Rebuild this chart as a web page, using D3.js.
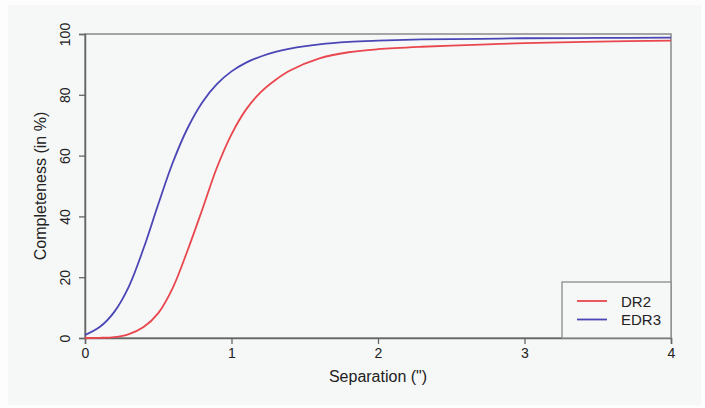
<!DOCTYPE html>
<html lang="en">
<head>
<meta charset="utf-8">
<title>Completeness vs separation</title>
<script src="https://cdn.jsdelivr.net/npm/d3@7"></script>
<style>
body { margin: 0; background: #fdfdfd; }
text { font-family: "Liberation Sans", Arial, sans-serif; fill: #222; }
</style>
</head>
<body>
<script>
// separation in arcsec, completeness in %
var separation = [0, 0.1, 0.2, 0.3, 0.4, 0.5, 0.6, 0.7, 0.8, 0.9, 1.0, 1.1, 1.2, 1.3, 1.4, 1.6, 1.8, 2.0, 2.3, 2.7, 3.0, 3.5, 4.0];
var dr2  = [0, 0.05, 0.3, 1.3, 3.6, 8.2, 16.6, 28.8, 42.2, 56.0, 67.0, 75.2, 80.9, 84.9, 88.0, 92.0, 94.0, 95.0, 95.8, 96.5, 97.0, 97.5, 97.8];
var edr3 = [1.0, 3.6, 8.6, 17.0, 29.5, 44.0, 57.8, 69.0, 77.5, 83.5, 87.7, 90.6, 92.6, 94.1, 95.2, 96.6, 97.4, 97.8, 98.2, 98.4, 98.6, 98.7, 98.8];
var seriesNames = ["DR2", "EDR3"];
var seriesColors = ["#e9474d", "#4b46b6"];
var xTicks = [0, 1, 2, 3, 4];
var yTicks = [0, 20, 40, 60, 80, 100];

var W = 705, H = 408;
var svg = d3.select("body").append("svg").attr("width", W).attr("height", H);

svg.append("rect").attr("x", 8).attr("y", 5).attr("width", 693).attr("height", 400).attr("fill", "#f6f7f7");

var x = d3.scaleLinear().domain([0, 4]).range([85, 671]);
var y = d3.scaleLinear().domain([0, 100]).range([338, 34]);

// box
svg.append("rect").attr("x", x(0)).attr("y", y(100))
  .attr("width", x(4) - x(0)).attr("height", y(0) - y(100))
  .attr("fill", "none").attr("stroke", "#8a8a8a").attr("stroke-width", 1.5);

// x axis
var gx = svg.append("g").attr("transform", "translate(0," + y(0) + ")")
  .call(d3.axisBottom(x).tickValues(xTicks).tickFormat(d3.format("d")).tickSize(6).tickPadding(4));
// y axis
var gy = svg.append("g").attr("transform", "translate(" + x(0) + ",0)")
  .call(d3.axisLeft(y).tickValues(yTicks).tickFormat(d3.format("d")).tickSize(6));

[gx, gy].forEach(function(g) {
  g.select(".domain").attr("stroke", "#666").attr("stroke-width", 1.5);
  g.selectAll(".tick line").attr("stroke", "#666").attr("stroke-width", 1.3);
  g.selectAll("text").style("font-family", "Liberation Sans, Arial, sans-serif")
    .style("font-size", "14px").attr("fill", "#222");
});
gx.selectAll("text").attr("dy", "0.71em");
gy.selectAll(".tick text")
  .attr("x", null).attr("dy", null)
  .attr("text-anchor", "middle")
  .attr("transform", "translate(-15,0) rotate(-90)");

// lines
var line = d3.line()
  .x(function(d) { return x(d[0]); })
  .y(function(d) { return y(d[1]); })
  .curve(d3.curveCatmullRom.alpha(0.5));

[dr2, edr3].forEach(function(vals, i) {
  svg.append("path")
    .datum(separation.map(function(s, k) { return [s, vals[k]]; }))
    .attr("d", line)
    .attr("fill", "none")
    .attr("stroke", seriesColors[i])
    .attr("stroke-width", 1.8);
});

// axis titles
svg.append("text").attr("x", x(2)).attr("y", 382)
  .attr("text-anchor", "middle").style("font-size", "16px").text("Separation (\")");
svg.append("text").attr("transform", "translate(46," + (y(50)) + ") rotate(-90)")
  .attr("text-anchor", "middle").style("font-size", "16px").text("Completeness (in %)");

// legend
var lg = svg.append("g");
lg.append("rect").attr("x", 562).attr("y", 282).attr("width", x(4) - 562).attr("height", y(0) - 282)
  .attr("fill", "#f6f7f7").attr("stroke", "#8a8a8a").attr("stroke-width", 1.3);
seriesNames.forEach(function(name, i) {
  var ly = 301 + i * 18.5;
  lg.append("line").attr("x1", 577).attr("x2", 607).attr("y1", ly).attr("y2", ly)
    .attr("stroke", seriesColors[i]).attr("stroke-width", 1.8);
  lg.append("text").attr("x", 621).attr("y", ly + 5.5).style("font-size", "15px").text(name);
});
</script>
</body>
</html>
